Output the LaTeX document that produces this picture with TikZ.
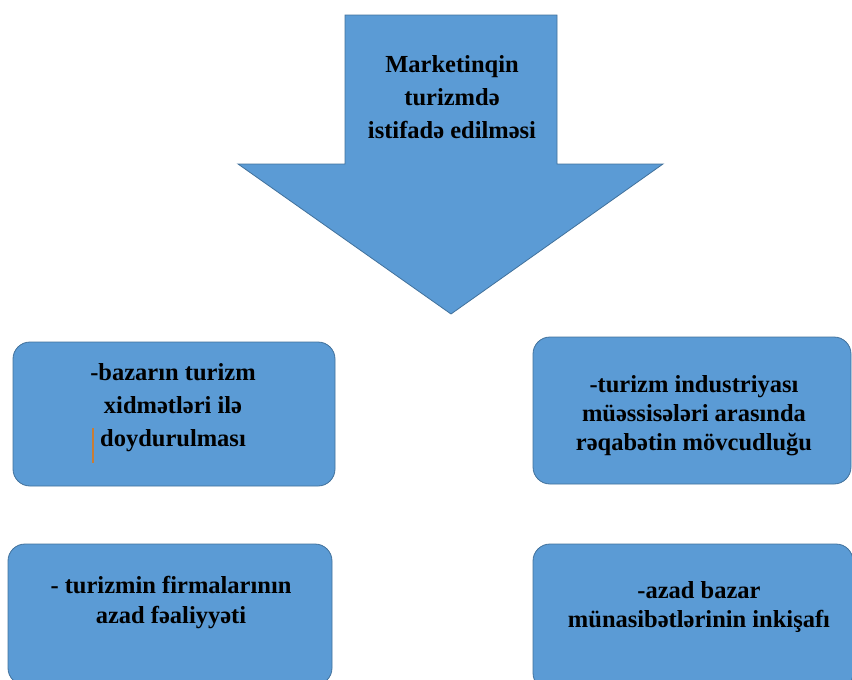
\documentclass[tikz,border=0pt]{standalone}
\usepackage{fontspec}
\setmainfont{Liberation Serif}
\usepackage{xcolor}
\usetikzlibrary{positioning}
\definecolor{boxblue}{RGB}{91,155,213}
\definecolor{edgeblue}{RGB}{65,113,156}
\definecolor{caretbrown}{RGB}{200,125,55}

\begin{document}
\begin{tikzpicture}[x=1pt,y=-1pt,
  card/.style={draw=edgeblue,line width=0.8pt,fill=boxblue,rounded corners=17pt},
  cardtext/.style={align=center,font=\bfseries}]
  \useasboundingbox (0,0) rectangle (852,680);
  % block arrow pointing down, title sits in its shaft
  \filldraw[card,rounded corners=0pt] (345,15) -- (557,15) -- (557,164) -- (663,164)
    -- (451,314) -- (238,164) -- (345,164) -- cycle;
  \node[cardtext,font=\fontsize{24.5}{33}\selectfont\bfseries] (title) at (452,97)
    {Marketinqin\\turizmdə\\istifadə edilməsi};
  % boxes: name / centre x / centre y / width / height / text x / text y / leading / text
  \foreach \nm/\cx/\cy/\bw/\bh/\tx/\ty/\lead/\txt in {
    bazar/174/414/322/144/173/408/33/{-bazarın turizm\\xidmətləri ilə\\doydurulması},
    reqabet/692/410.5/318/147/694/416/29/{-turizm industriyası\\müəssisələri arasında\\rəqabətin mövcudluğu},
    firma/170/614.5/324/141/171/603/30/{- turizmin firmalarının\\azad fəaliyyəti},
    munasibet/693/617/320/146/699/607.5/29/{-azad bazar\\münasibətlərinin inkişafı}} {
    \node[card,minimum width=\bw,minimum height=\bh] (\nm) at (\cx,\cy) {};
    \node[cardtext,font=\fontsize{24.5}{\lead}\selectfont\bfseries] (\nm-txt) at (\tx,\ty) {\txt};
  }
  % stray text cursor left in the first box
  \draw[caretbrown,line width=1.6pt] (93,428) -- (93,463);
\end{tikzpicture}
\end{document}
